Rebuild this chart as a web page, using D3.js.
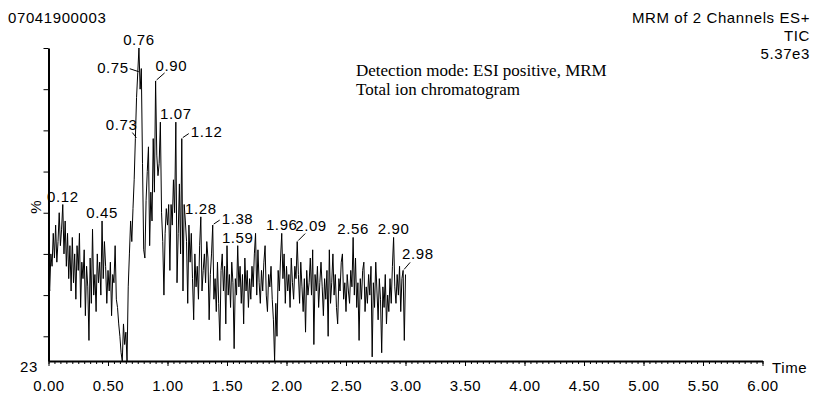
<!DOCTYPE html>
<html>
<head>
<meta charset="utf-8">
<script src="https://cdn.jsdelivr.net/npm/d3@7"></script>
<style>
  body { margin: 0; background: #fff; }
  text { font-family: "Liberation Sans", Arial, sans-serif; }
</style>
</head>
<body>
<svg id="drawing_region"></svg>
<script>
// sampling of the trace (minutes)
const startTime = 0.0;
const timeStep = 0.01;

// TIC intensity, % of 5.37e3, one row per 0.1 min
const intensity = [
  45, 41, 50, 47, 55, 49, 57, 48, 53, 60,
  52, 56, 62, 50, 58, 47, 55, 44, 52, 41,
  54, 43, 50, 39, 52, 46, 55, 37, 48, 44,
  51, 35, 47, 42, 29, 49, 38, 56, 40, 45,
  36, 50, 43, 48, 40, 58, 44, 53, 47, 38,
  46, 41, 48, 35, 45, 43, 52, 39, 37, 33,
  30, 26, 24, 33, 28, 31, 24, 42, 50, 58,
  53, 61, 68, 78, 88, 94, 100, 90, 95, 72,
  51, 49, 63, 70, 76, 52, 65, 58, 78, 65,
  92, 74, 69, 72, 82, 60, 53, 40, 55, 61,
  57, 62, 46, 62, 57, 68, 60, 82, 43, 55,
  67, 50, 78, 41, 62, 58, 53, 38, 57, 48,
  55, 44, 34, 50, 42, 47, 39, 52, 59, 41,
  46, 50, 43, 53, 49, 34, 45, 50, 57, 39,
  44, 36, 48, 38, 29, 46, 50, 41, 47, 33,
  52, 40, 45, 37, 48, 43, 27, 44, 40, 52,
  42, 47, 38, 45, 33, 49, 41, 46, 37, 44,
  39, 47, 42, 50, 55, 40, 51, 43, 38, 46,
  41, 48, 52, 40, 36, 45, 42, 47, 39, 34,
  24, 38, 30, 46, 41, 49, 55, 44, 50, 38,
  47, 41, 45, 37, 49, 43, 39, 47, 44, 53,
  45, 38, 48, 42, 36, 44, 31, 46, 40, 43,
  49, 40, 51, 28, 45, 41, 47, 37, 43, 48,
  42, 35, 44, 39, 46, 30, 51, 38, 43, 50,
  40, 45, 37, 33, 44, 41, 48, 50, 39, 43,
  36, 45, 41, 38, 46, 42, 54, 40, 49, 37,
  43, 29, 44, 39, 46, 48, 36, 42, 38, 45,
  40, 47, 25, 43, 37, 48, 41, 34, 44, 39,
  26, 42, 37, 45, 33, 40, 36, 44, 38, 47,
  54, 42, 38, 45, 40, 47, 36, 44, 46, 29,
  45
];

// labelled peaks (retention times)
const peakTimes = [0.12, 0.45, 0.73, 0.75, 0.76, 0.90, 1.07, 1.12, 1.28, 1.38, 1.59, 1.96, 2.09, 2.56, 2.90, 2.98];

// axis ticks
const xMajorTicks = [0, 0.5, 1, 1.5, 2, 2.5, 3, 3.5, 4, 4.5, 5, 5.5, 6];
const yTicks = [30, 40, 50, 60, 70, 80, 90, 100];

// header text
const sampleName = "07041900003";
const headerRight = ["MRM of 2 Channels ES+", "TIC", "5.37e3"];
const noteLines = ["Detection mode: ESI positive, MRM", "Total ion chromatogram"];
const yOffsetLabel = "23";

// where each peak label sits relative to its peak: anchor, dx, dy, leader end
const labelLayout = {
  "0.73": {anchor: "end",    dx: 2,  dy: -9,  lead: [-3, -6]},
  "0.75": {anchor: "end",    dx: -9, dy: 0,   lead: [-8, -4]},
  "0.90": {anchor: "start",  dx: 0,  dy: -10, lead: [9, -8]},
  "1.12": {anchor: "start",  dx: 9,  dy: -2,  lead: [7, -5]},
  "1.38": {anchor: "start",  dx: 9,  dy: -1,  lead: [7, -5]},
  "2.09": {anchor: "start",  dx: -2, dy: -11, lead: [8, -8]},
  "2.98": {anchor: "start",  dx: -1, dy: -11, lead: [7, -8]}
};

const FS = '15px';
const LS = '0.6px';

class Chromatogram {
  constructor(config, data) {
    this.config = config;
    this.data = data;
    this.init();
  }

  init() {
    let self = this;
    const m = self.config.margin;

    self.svg = d3.select(self.config.parent)
      .attr('width', self.config.width)
      .attr('height', self.config.height);

    self.inner_width = self.config.width - m.left - m.right;
    self.inner_height = self.config.height - m.top - m.bottom;

    self.chart = self.svg.append('g')
      .attr('transform', `translate(${m.left}, ${m.top})`);

    self.xscale = d3.scaleLinear()
      .domain([0, 6])
      .range([0, self.inner_width]);

    self.yscale = d3.scaleLinear()
      .domain([24, 100])
      .range([self.inner_height, 0]);
  }

  label(sel) {
    return sel.style('font-size', FS).style('letter-spacing', LS);
  }

  render() {
    let self = this;

    // minor x ticks every 0.05
    const minor = d3.range(0, 121).map(i => i * 0.05);
    self.chart.append('g')
      .attr('transform', `translate(0, ${self.inner_height})`)
      .call(d3.axisBottom(self.xscale).tickValues(minor).tickSize(3).tickFormat(''))
      .call(g => g.select('.domain').remove());

    const xg = self.chart.append('g')
      .attr('transform', `translate(0, ${self.inner_height})`)
      .call(d3.axisBottom(self.xscale)
        .tickValues(xMajorTicks)
        .tickSize(5)
        .tickSizeOuter(0)
        .tickPadding(14)
        .tickFormat(d3.format('.2f')));
    xg.select('.domain').attr('stroke-width', 2);
    xg.selectAll('text')
      .attr('fill', '#000')
      .style('font-family', '"Liberation Sans", Arial, sans-serif')
      .call(s => self.label(s));

    const yg = self.chart.append('g')
      .call(d3.axisLeft(self.yscale)
        .tickValues(yTicks)
        .tickSize(5)
        .tickSizeOuter(0)
        .tickFormat(''));
    yg.select('.domain').attr('stroke-width', 2);

    // trace
    const line = d3.line()
      .x(d => self.xscale(d.t))
      .y(d => self.yscale(d.v));

    self.chart.append('path')
      .datum(self.data)
      .attr('fill', 'none')
      .attr('stroke', '#000')
      .attr('stroke-width', 1)
      .attr('d', line);

    // peak labels
    peakTimes.forEach(t => {
      const label = t.toFixed(2);
      const pt = self.data[Math.round((t - startTime) / timeStep)];
      const px = self.xscale(pt.t);
      const py = self.yscale(pt.v);
      const lay = labelLayout[label];
      if (lay) {
        self.chart.append('line')
          .attr('x1', px + 1).attr('y1', py - 1)
          .attr('x2', px + lay.lead[0]).attr('y2', py + lay.lead[1])
          .attr('stroke', '#000');
        self.chart.append('text')
          .attr('x', px + lay.dx).attr('y', py + lay.dy)
          .attr('text-anchor', lay.anchor)
          .call(s => self.label(s))
          .text(label);
      } else {
        self.chart.append('text')
          .attr('x', px).attr('y', py - 3)
          .attr('text-anchor', 'middle')
          .call(s => self.label(s))
          .text(label);
      }
    });

    // header
    self.svg.append('text')
      .attr('x', 8).attr('y', 23)
      .call(s => self.label(s))
      .text(sampleName);

    headerRight.forEach((s, i) => {
      self.svg.append('text')
        .attr('x', 810).attr('y', 23 + i * 18)
        .attr('text-anchor', 'end')
        .call(sel => self.label(sel))
        .text(s);
    });

    noteLines.forEach((s, i) => {
      self.svg.append('text')
        .attr('x', 356).attr('y', 76 + i * 19)
        .style('font-family', '"Liberation Serif", "Times New Roman", serif')
        .style('font-size', '17px')
        .text(s);
    });

    // axis captions
    self.svg.append('text')
      .attr('x', 38).attr('y', 372)
      .attr('text-anchor', 'end')
      .call(s => self.label(s))
      .text(yOffsetLabel);

    self.svg.append('text')
      .attr('transform', 'translate(41, 207) rotate(-90)')
      .attr('text-anchor', 'middle')
      .style('font-size', FS)
      .text('%');

    self.svg.append('text')
      .attr('x', 772).attr('y', 373)
      .call(s => self.label(s))
      .text('Time');
  }
}

const data = intensity.map((v, i) => ({t: startTime + i * timeStep, v: v}));

const chart = new Chromatogram({
  parent: '#drawing_region',
  width: 814,
  height: 393,
  margin: {top: 48, right: 51.5, bottom: 32, left: 48.5}
}, data);
chart.render();
</script>
</body>
</html>
